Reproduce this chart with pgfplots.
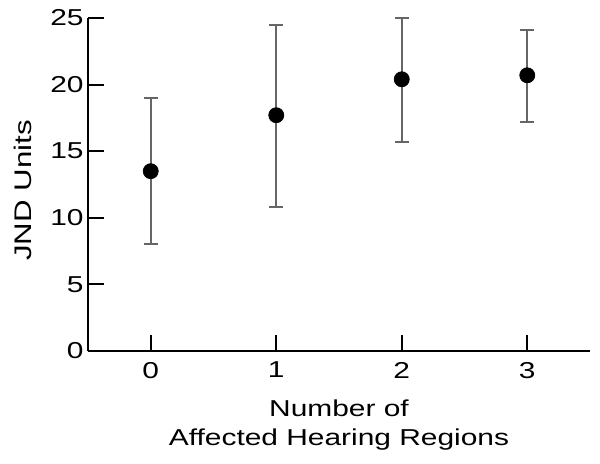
\documentclass[border=0pt]{standalone}
\usepackage{pgfplots}
\pgfplotsset{compat=1.18}
\usepackage{fontspec}
\setmainfont[FakeStretch=1.3]{Liberation Sans}
\begin{document}
\begin{tikzpicture}
\begin{axis}[
  scale only axis, width=251pt, height=166.5pt,
  xmin=-0.5, xmax=3.5, ymin=0, ymax=25,
  axis lines*=left, axis line style={line width=1pt},
  xtick={0,1,2,3}, ytick={0,5,10,15,20,25},
  tick align=inside, major tick length=8pt,
  tick style={line width=1pt, black},
  /pgf/number format/assume math mode=true,
  tick label style={font=\fontsize{11.5}{13}\selectfont},
  xticklabel style={yshift=-2pt},
  yticklabel style={xshift=1.3pt},
  xlabel={Number of\\Affected Hearing Regions},
  xlabel style={at={(axis description cs:0.5,0)}, anchor=north, yshift=-24pt,
    inner sep=0pt, align=center, font=\fontsize{11.5}{14.5}\selectfont},
  ylabel={JND Units},
  ylabel style={at={([xshift=-28pt,yshift=-3pt]axis description cs:0,0.5)}, anchor=south,
    inner sep=0pt, font=\fontsize{12}{14}\selectfont},
  clip=false,
]
\addplot[only marks, mark=*, mark size=3.75pt, black,
  error bars/.cd, y dir=both, y explicit,
  error bar style={line width=1pt, black!60},
  error mark options={rotate=90, mark size=3.5pt, line width=1pt, black!60}]
  table[x=x, y=y, y error plus=ep, y error minus=em] {
x y ep em
0 13.5 5.5 5.5
1 17.7 6.8 6.9
2 20.4 4.6 4.7
3 20.7 3.4 3.5
};
\end{axis}
\path ([shift={(-44pt,-56pt)}]current axis.south west) rectangle ([shift={(5pt,9pt)}]current axis.north east);
\end{tikzpicture}
\end{document}
